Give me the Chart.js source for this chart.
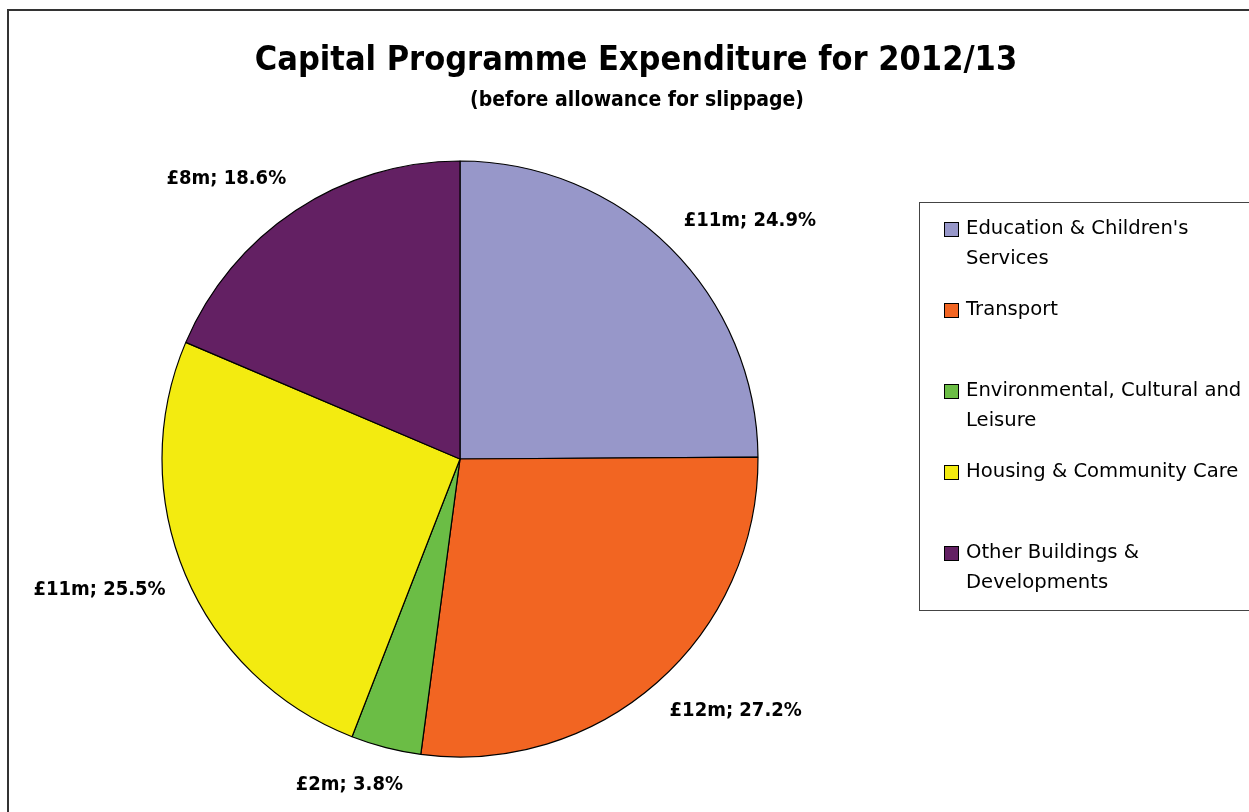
<!DOCTYPE html>
<html>
<head>
<meta charset="utf-8">
<title>Capital Programme Expenditure for 2012/13</title>
<script src="https://cdn.jsdelivr.net/npm/chart.js@4/dist/chart.umd.min.js"></script>
<style>
  html, body { margin: 0; padding: 0; background: #ffffff; }
  #wrap { width: 1249px; height: 812px; }
  canvas { display: block; }
</style>
</head>
<body>
<div id="wrap"><canvas id="chart" width="1249" height="812"></canvas></div>
<script>
// Programme areas (legend lines), spend in £m (rounded) and share of total in %
const categories = [
  ["Education & Children's", "Services"],
  ["Transport"],
  ["Environmental, Cultural and", "Leisure"],
  ["Housing & Community Care"],
  ["Other Buildings &", "Developments"]
];
const amounts = [11, 12, 2, 11, 8];
const shares = [24.9, 27.2, 3.8, 25.5, 18.6];
const colours = ['#9797C9', '#F26522', '#6BBD45', '#F3EB10', '#632063'];
const titleText = 'Capital Programme Expenditure for 2012/13';
const subtitleText = '(before allowance for slippage)';

const NARROW = "'DejaVu Sans Condensed', 'DejaVu Sans', sans-serif";
const WIDE = "'DejaVu Sans', sans-serif";

// Outer frame and white background
const framePlugin = {
  id: 'frame',
  beforeDraw(chart) {
    const ctx = chart.ctx;
    ctx.save();
    ctx.fillStyle = '#ffffff';
    ctx.fillRect(0, 0, chart.width, chart.height);
    ctx.strokeStyle = '#333333';
    ctx.lineWidth = 2;
    ctx.strokeRect(8, 10, chart.width + 50, chart.height + 50);
    ctx.restore();
  }
};

// Title and subtitle
const headingPlugin = {
  id: 'heading',
  afterDraw(chart) {
    const ctx = chart.ctx;
    ctx.save();
    ctx.fillStyle = '#000000';
    ctx.textAlign = 'center';
    ctx.textBaseline = 'middle';
    ctx.font = 'bold 34px ' + NARROW;
    ctx.fillText(titleText, 636, 61);
    ctx.font = 'bold 21px ' + NARROW;
    ctx.fillText(subtitleText, 637, 101);
    ctx.restore();
  }
};

// "£Xm; Y%" labels placed just outside each slice
const sliceLabelPlugin = {
  id: 'sliceLabels',
  afterDatasetsDraw(chart) {
    const ctx = chart.ctx;
    const meta = chart.getDatasetMeta(0);
    ctx.save();
    ctx.font = 'bold 20px ' + NARROW;
    ctx.fillStyle = '#000000';
    ctx.textAlign = 'center';
    ctx.textBaseline = 'middle';
    meta.data.forEach((arc, i) => {
      const p = arc.getProps(['x', 'y', 'startAngle', 'endAngle', 'outerRadius'], true);
      const mid = (p.startAngle + p.endAngle) / 2;
      const text = '£' + amounts[i] + 'm; ' + shares[i].toFixed(1) + '%';
      const w = ctx.measureText(text).width;
      const h = 20;
      const r = p.outerRadius + 28;
      const ax = p.x + Math.cos(mid) * r;
      const ay = p.y + Math.sin(mid) * r;
      const k = Math.max(-1, Math.min(1, Math.cos(mid) * 2.5));
      ctx.fillText(text, ax + (w / 2 - 6) * k, ay + (h / 2) * Math.sin(mid));
    });
    ctx.restore();
  }
};

// Boxed legend on the right
const boxLegendPlugin = {
  id: 'boxLegend',
  afterDraw(chart) {
    const ctx = chart.ctx;
    const left = 919.5, top = 202.5, height = 408;
    ctx.save();
    ctx.strokeStyle = '#444444';
    ctx.lineWidth = 1;
    ctx.strokeRect(left, top, 400, height);
    ctx.font = '19.6px ' + WIDE;
    ctx.textAlign = 'left';
    ctx.textBaseline = 'middle';
    const firstLine = 229, entryStep = 81, lineStep = 30;
    categories.forEach((lines, i) => {
      const y = firstLine + entryStep * i;
      ctx.fillStyle = colours[i];
      ctx.fillRect(944, y - 7, 15, 15);
      ctx.strokeStyle = '#000000';
      ctx.strokeRect(944.5, y - 6.5, 14, 14);
      ctx.fillStyle = '#000000';
      lines.forEach((ln, j) => ctx.fillText(ln, 966, y + lineStep * j));
    });
    ctx.restore();
  }
};

new Chart(document.getElementById('chart'), {
  type: 'pie',
  data: {
    labels: categories,
    datasets: [{
      data: shares,
      backgroundColor: colours,
      borderColor: '#000000',
      borderWidth: 1.2,
      hoverOffset: 0,
      radius: 298
    }]
  },
  options: {
    responsive: false,
    animation: false,
    events: [],
    layout: { padding: { left: 150, right: 479, top: 150, bottom: 44 } },
    plugins: {
      legend: { display: false },
      title: { display: false },
      tooltip: { enabled: false }
    }
  },
  plugins: [framePlugin, headingPlugin, sliceLabelPlugin, boxLegendPlugin]
});
</script>
</body>
</html>
